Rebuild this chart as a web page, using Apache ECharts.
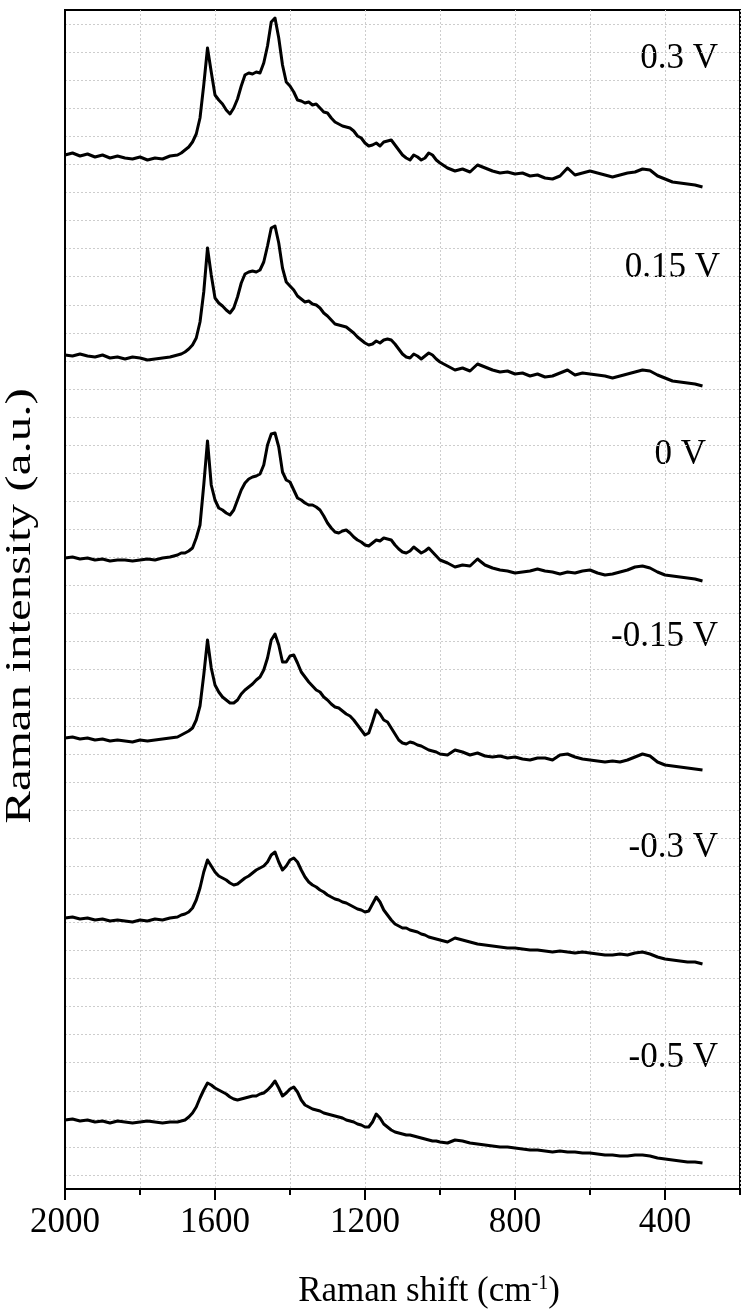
<!DOCTYPE html>
<html>
<head>
<meta charset="utf-8">
<title>Raman spectra</title>
<script src="https://cdn.jsdelivr.net/npm/echarts@6/dist/echarts.min.js"></script>
<style>
html,body{margin:0;padding:0;background:#fff;}
#main{width:752px;height:1316px;}
</style>
</head>
<body>
<div id="main"></div>
<script>
// Raman shift (cm-1), shared by all spectra
var shift = [2000,1980,1960,1940,1920,1900,1880,1860,1840,1820,1800,1780,1760,1740,1720,
1700,1690,1680,1670,1660,1650,1640,1630,1620,1610,1600,1590,1580,1570,1560,1550,1540,1530,1520,1510,
1500,1490,1480,1470,1460,1450,1440,1430,1420,1410,1400,1390,1380,1370,1360,1350,1340,1330,1320,1310,
1300,1290,1280,1270,1260,1250,1240,1230,1220,1210,1200,1190,1180,1170,1160,1150,1140,1130,1120,1110,
1100,1090,1080,1070,1060,1050,1040,1030,1020,1010,1000,
980,960,940,920,900,880,860,840,820,800,780,760,740,720,700,680,660,640,620,600,580,560,540,520,500,
480,460,440,420,400,380,360,340,320,300];

var names = ['0.3 V', '0.15 V', '0 V', '-0.15 V', '-0.3 V', '-0.5 V'];
// vertical offset of each spectrum in the stack (a.u.)
var offsets = [1034, 834, 631, 451, 271, 69];

var s03 = [0,2,-1,1,-2,0,-3,-1,-3,-4,-2,-5,-3,-4,-1,
0,2,5,8,13,21,37,70,107,83,60,55,51,45,41,47,56,69,80,82,81,83,82,92,109,133,137,117,90,73,
69,63,55,54,52,53,50,51,47,43,42,37,33,31,29,28,27,24,19,17,12,9,10,12,9,13,14,15,10,5,
0,-3,-5,0,-2,-5,-3,2,0,-5,-8,
-13,-16,-14,-17,-10,-13,-16,-18,-17,-19,-18,-21,-20,-23,-24,-21,-13,-20,-18,-16,-18,-20,-22,-20,-18,
-17,-14,-15,-21,-24,-27,-28,-29,-30,-32];

var s015 = [0,-1,1,-1,-2,0,-3,-2,-4,-2,-3,-5,-4,-3,-2,
0,1,3,6,10,17,33,63,107,80,57,52,49,45,42,47,58,72,81,83,84,83,85,93,109,127,129,112,87,73,
69,65,59,56,53,54,51,50,47,42,39,35,31,30,29,28,25,22,18,15,12,10,11,14,12,15,16,15,11,6,
1,-2,-3,1,-1,-4,-1,2,0,-4,-7,
-11,-15,-13,-16,-9,-12,-15,-17,-16,-19,-18,-21,-19,-22,-21,-18,-15,-20,-18,-19,-20,-21,-23,-21,-19,
-17,-15,-16,-20,-23,-26,-27,-28,-29,-31];

var s0 = [0,1,-1,0,-2,-1,-3,-2,-2,-3,-2,-1,-2,0,1,
3,5,5,7,10,20,33,73,117,73,58,50,48,45,43,48,58,68,75,79,81,82,84,93,113,124,125,111,86,78,
76,68,60,58,55,53,53,51,48,42,35,30,26,25,27,28,25,21,18,16,13,12,15,18,17,20,19,18,13,9,
6,5,7,11,8,5,7,10,6,2,-2,
-5,-9,-7,-8,-1,-7,-10,-12,-13,-15,-14,-13,-11,-13,-14,-16,-14,-15,-13,-12,-15,-17,-16,-14,-12,
-9,-8,-10,-14,-17,-18,-19,-20,-21,-23];

var sm015 = [0,1,-1,0,-2,-1,-3,-2,-3,-4,-2,-3,-2,-1,0,
1,3,5,7,10,18,32,63,98,70,53,46,41,38,35,35,38,44,48,51,54,58,61,68,80,98,104,93,76,76,
82,83,75,66,61,56,52,48,46,41,38,34,31,30,27,24,22,18,13,8,3,5,16,28,24,18,16,10,4,-2,
-5,-6,-4,-5,-7,-8,-10,-12,-13,-14,-16,
-17,-12,-14,-17,-15,-18,-19,-18,-20,-19,-21,-22,-20,-20,-22,-17,-16,-19,-21,-22,-23,-24,-23,-24,-22,
-19,-16,-18,-24,-27,-28,-29,-30,-31,-32];

var sm03 = [0,1,-1,0,-2,-1,-3,-2,-3,-4,-2,-3,-1,-2,0,
1,3,4,6,10,18,30,46,58,52,46,42,40,38,35,33,34,37,40,42,45,48,50,52,56,63,66,56,48,52,
58,60,56,48,41,36,33,31,28,26,23,21,19,18,16,15,13,11,9,8,6,7,14,21,16,8,3,-2,-6,-8,
-10,-10,-12,-13,-14,-16,-17,-19,-20,-21,-22,
-24,-20,-22,-24,-26,-27,-28,-29,-30,-30,-31,-32,-32,-33,-34,-33,-34,-35,-34,-35,-36,-37,-37,-36,-37,
-35,-34,-36,-39,-41,-42,-43,-44,-44,-46];

var sm05 = [0,1,-1,0,-2,-1,-3,-1,-2,-3,-2,-1,-2,-3,-2,
-2,-1,0,3,7,13,22,30,37,35,32,30,28,26,23,21,20,21,22,23,24,24,26,27,30,34,39,32,24,27,
31,33,28,20,15,13,11,10,9,7,6,5,4,3,2,0,-1,-2,-4,-5,-7,-7,-2,6,2,-4,-7,-10,-12,-13,
-14,-15,-15,-16,-17,-18,-19,-20,-21,-21,-22,
-23,-20,-21,-23,-24,-25,-26,-27,-27,-28,-29,-30,-30,-31,-32,-31,-32,-32,-33,-33,-34,-35,-35,-36,-36,
-35,-35,-36,-38,-39,-40,-41,-42,-42,-43];

var spectra = [s03, s015, s0, sm015, sm03, sm05];

var font = '"Liberation Serif", "Times New Roman", serif';
var gridColor = '#cdcdcd';

var series = [];
for (var k = 0; k < spectra.length; k++) {
    if (spectra[k].length !== shift.length) {
        throw new Error(names[k] + ' has ' + spectra[k].length + ' points, expected ' + shift.length);
    }
    var pts = [];
    for (var i = 0; i < shift.length; i++) {
        pts.push([shift[i], offsets[k] + spectra[k][i]]);
    }
    series.push({
        name: names[k],
        type: 'line',
        data: pts,
        symbol: 'none',
        silent: true,
        lineStyle: {color: '#000', width: 3, join: 'round'},
        itemStyle: {color: '#000'}
    });
}

// voltage labels at the right of each spectrum
var labelPos = [[718, 59], [720, 268], [706, 455], [718, 637], [718, 848], [718, 1058]];
var graphic = names.map(function (n, k) {
    return {
        type: 'text',
        x: labelPos[k][0],
        y: labelPos[k][1],
        style: {text: n, font: '35px ' + font, fill: '#000', align: 'right', verticalAlign: 'middle'}
    };
});
// y axis title, drawn stretched along its length like the original
graphic.push({
    type: 'text',
    x: 21,
    y: 606,
    rotation: Math.PI / 2,
    scaleX: 1.4,
    style: {text: 'Raman intensity (a.u.)', font: '35px ' + font, fill: '#000', align: 'center', verticalAlign: 'middle'}
});

var chart = echarts.init(document.getElementById('main'));
var option = {
    animation: false,
    backgroundColor: '#fff',
    grid: [
        {left: 65, right: 12, top: 10, bottom: 127, show: true, borderColor: '#000', borderWidth: 2,
         containLabel: false, outerBoundsMode: 'none'},
        // wider twin grid (2000..0) only used for the major ticks and labels every 400
        {left: 65, width: 750, top: 10, bottom: 127, show: false,
         containLabel: false, outerBoundsMode: 'none'}
    ],
    xAxis: [
        {
            type: 'value', gridIndex: 0, min: 200, max: 2000, interval: 200, inverse: true,
            axisLine: {show: true, lineStyle: {color: '#000', width: 2}},
            axisTick: {show: true, length: 6, lineStyle: {color: '#000', width: 2}},
            axisLabel: {show: false},
            splitLine: {show: true, lineStyle: {color: gridColor, width: 1, type: [2, 2]}},
            minorSplitLine: {show: false}
        },
        {
            type: 'value', gridIndex: 1, min: 0, max: 2000, interval: 400, inverse: true,
            axisLine: {show: false},
            axisTick: {show: true, length: 11, lineStyle: {color: '#000', width: 2}},
            axisLabel: {
                show: true, margin: 16, color: '#000', fontSize: 35, fontFamily: font,
                formatter: function (v) { return v >= 400 ? String(v) : ''; }
            },
            splitLine: {show: false},
            name: '{n|Raman shift (cm}{s|-1}{n|)}',
            nameLocation: 'middle',
            nameGap: 85,
            nameTextStyle: {
                color: '#000', fontSize: 35, fontFamily: font, padding: [0, 22, 0, 0],
                rich: {
                    n: {fontSize: 35, fontFamily: font, color: '#000'},
                    s: {fontSize: 20, fontFamily: font, color: '#000', verticalAlign: 'top'}
                }
            }
        }
    ],
    yAxis: [
        {
            type: 'value', gridIndex: 0, min: 0, max: 1179, interval: 1179 / 42,
            axisLine: {show: true, lineStyle: {color: '#000', width: 2}},
            axisTick: {show: false},
            axisLabel: {show: false},
            splitLine: {show: false},
            minorTick: {show: false, splitNumber: 2},
            minorSplitLine: {show: true, lineStyle: {color: gridColor, width: 1, type: [2, 2]}}
        },
        {type: 'value', gridIndex: 1, min: 0, max: 1, show: false}
    ],
    series: series,
    graphic: graphic
};
chart.setOption(option);
</script>
</body>
</html>
